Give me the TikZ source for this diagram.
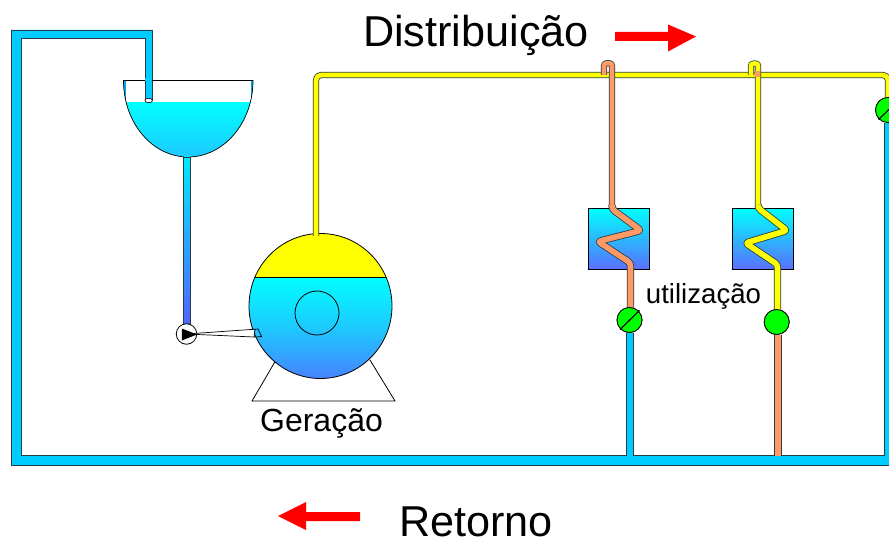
\documentclass[tikz,border=0pt]{standalone}
\usepackage{fontspec}
\setmainfont{Liberation Sans}
\definecolor{pipeblue}{RGB}{0,204,255}
\definecolor{pipeorange}{RGB}{255,153,102}
\definecolor{pipeyellow}{RGB}{255,255,0}
\definecolor{valvegreen}{RGB}{0,255,0}
\definecolor{waterlow}{RGB}{90,110,255}
\definecolor{watermid}{RGB}{30,200,255}
\definecolor{edgegray}{RGB}{40,60,70}
\definecolor{arrowred}{RGB}{255,0,0}
\tikzset{
  x=1pt,y=-1pt,
  pipe/.style={draw=edgegray,line width=0.8pt,double distance=4.6pt,line join=round,rounded corners=5pt},
  widepipe/.style={pipe,double distance=5.6pt},
  hotpipe/.style={pipe,double=pipeyellow},
  warmpipe/.style={pipe,double=pipeorange},
  coldpipe/.style={pipe,double=pipeblue},
  exchanger/.style={rectangle,draw=black,line width=0.7pt,minimum size=61.4pt,inner sep=0pt,top color=cyan,bottom color=waterlow},
  valve/.style={circle,draw=black,line width=0.8pt,fill=valvegreen,minimum size=25pt,inner sep=0pt},
  thinline/.style={draw=black,line width=0.7pt},
  bigtext/.style={font=\fontsize{43.2}{44}\selectfont,anchor=base,inner sep=0pt},
  geratext/.style={font=\fontsize{32}{33}\selectfont,anchor=base,inner sep=0pt},
  usetext/.style={font=\fontsize{27.6}{29}\selectfont,anchor=base,inner sep=0pt},
  redarrow/.style={fill=arrowred,draw=none},
}
\begin{document}
\begin{tikzpicture}
\useasboundingbox (0,0) rectangle (889,540);
\clip (0,0) rectangle (889,540);
\fill[white] (0,0) rectangle (889,540);

% named points
\coordinate (boilertop) at (316,236);
\coordinate (mainbend) at (316,75);
\coordinate (mainend) at (888,75);
\coordinate (hookA) at (604,75);
\coordinate (hookAl) at (604,70);
\coordinate (hookAr) at (612,70);
\coordinate (hookB) at (751,75);
\coordinate (hookBl) at (751,70);
\coordinate (hookBr) at (758,70);
\coordinate (baseA) at (630,456);
\coordinate (baseB) at (778,455.5);
\coordinate (baseC) at (888,456);

% return frame
\path[fill=pipeblue,draw=edgegray,line width=0.8pt]
  (892,465) -- (11,465) -- (11,30) -- (152.5,30) -- (152.5,100) -- (145,100)
  -- (145,38) -- (21,38) -- (21,455) -- (892,455);

% header tank
\begin{scope}
  \clip (123.5,80.5) .. controls (123.5,123) and (152.4,157) .. (188,157)
        .. controls (223.6,157) and (253,123) .. (253,80.5) -- cycle;
  \fill[cyan] (120,80) rectangle (256,102);
  \shade[top color=cyan,bottom color=watermid] (120,102) rectangle (256,158);
  \fill[white] (125.5,81) rectangle (250.5,102);
\end{scope}
\draw[thinline] (123.5,80.5) .. controls (123.5,123) and (152.4,157) .. (188,157)
        .. controls (223.6,157) and (253,123) .. (253,80.5) -- cycle;
% inlet pipe inside the tank
\fill[pipeblue] (145.4,78) rectangle (152.1,100);
\draw[edgegray,line width=0.8pt] (145,81) -- (145,100) (152.5,81) -- (152.5,100);
\draw[thinline,fill=white,line width=0.6pt] (148.7,100.5) ellipse [x radius=3.8pt,y radius=2.2pt];

% feed pipe to pump
\shade[top color=cyan!60!pipeblue,bottom color=waterlow!90!blue,draw=edgegray,line width=0.7pt] (183.5,157) rectangle (190,326);

% supports
\draw[thinline,line width=0.8pt] (276,360) -- (252,401) -- (395,401) -- (370,360);

% boiler
\begin{scope}
  \clip (320.5,306) ellipse [x radius=71.5pt,y radius=72.5pt];
  \fill[pipeyellow] (240,230) rectangle (400,277);
  \shade[top color=cyan,bottom color=waterlow!80!pipeblue,middle color=watermid] (240,277) rectangle (400,380);
\end{scope}
\draw[thinline,line width=0.8pt] (320.5,306) ellipse [x radius=71.5pt,y radius=72.5pt];
\draw[thinline,line width=1pt] (254.8,277) -- (386.2,277);
\node[circle,draw=black,line width=0.8pt,minimum size=44pt,inner sep=0pt] (furnace) at (317,313) {};

% pump
\node[circle,draw=black,line width=0.8pt,fill=white,minimum size=20.5pt,inner sep=0pt] (pump) at (186.5,334) {};
\coordinate (burnerA) at (258,329);
\coordinate (burnerB) at (261.7,336.7);
\coordinate (burnerC) at (254,337);
\path[fill=white] (pump.center) -- (254,329.8) -- (254,337) -- cycle;
\draw[thinline,line width=0.7pt] (pump.center) -- (burnerA) -- (burnerB) -- (burnerC) -- (pump.center) (255,329.5) -- (burnerC);
\fill[black] (181.8,328.5) -- (197,334.5) -- (181.8,340.5) -- cycle;

% exchangers
\node[exchanger] (boxA) at (619,239) {};
\node[exchanger] (boxB) at (763,239) {};

% valves
\node[valve] (valveA) at (629.5,320) {};
\node[valve] (valveB) at (776.7,322) {};
\node[valve] (valveC) at (888,110) {};

% main hot line
\draw[hotpipe] (boilertop) -- (mainbend) -- (mainend) -- (valveC.north);

% branch A
\draw[warmpipe] (hookA) -- (hookAl) .. controls (604,62.5) and (612,62.5) .. (hookAr) -- (612,206);
\draw[warmpipe,widepipe,rounded corners=3pt] (612,205) -- (612,209) -- (641,230.5) -- (598,241.5) -- (630.5,263)
  -- (630.5,307.5);
\draw[coldpipe,widepipe,rounded corners=0pt] (630,333) -- (baseA);

% branch B
\draw[hotpipe] (hookB) -- (hookBl) .. controls (751,63) and (758,63) .. (hookBr) -- (758,206);
\draw[hotpipe,widepipe,rounded corners=3pt] (758,205) -- (758,208) -- (787,230.5) -- (745.5,243) -- (777.5,264.5)
  -- (777.5,309.5);
\fill[pipeorange] (755.4,71) rectangle (760.4,77);
\draw[warmpipe,widepipe,rounded corners=0pt] (778,334.5) -- (baseB);

% branch C
\draw[coldpipe,widepipe,rounded corners=0pt] (888,123) -- (baseC);

% redraw valves above pipes
\node[valve] at (valveA) {};
\node[valve] at (valveB) {};
\node[valve] at (valveC) {};
\draw[black,line width=1.1pt] (620,329.5) -- (639.5,310.5);
\draw[black,line width=1.1pt] (878.5,119.5) -- (889,109.5);

% arrows
\path[redarrow] (615,32) -- (668,32) -- (668,24.5) -- (696,36.5) -- (668,51.5) -- (668,41) -- (615,41) -- cycle;
\path[redarrow] (360,512) -- (306,512) -- (306,502) -- (278,516) -- (306,530) -- (306,521) -- (360,521) -- cycle;

% labels
\node[bigtext] (dist) at (476,47) {Distribuição};
\node[bigtext] (ret) at (476,536.5) {Retorno};
\node[geratext] (ger) at (321.5,431) {Geração};
\node[usetext] (uti) at (703.5,303) {utilização};
\end{tikzpicture}
\end{document}
